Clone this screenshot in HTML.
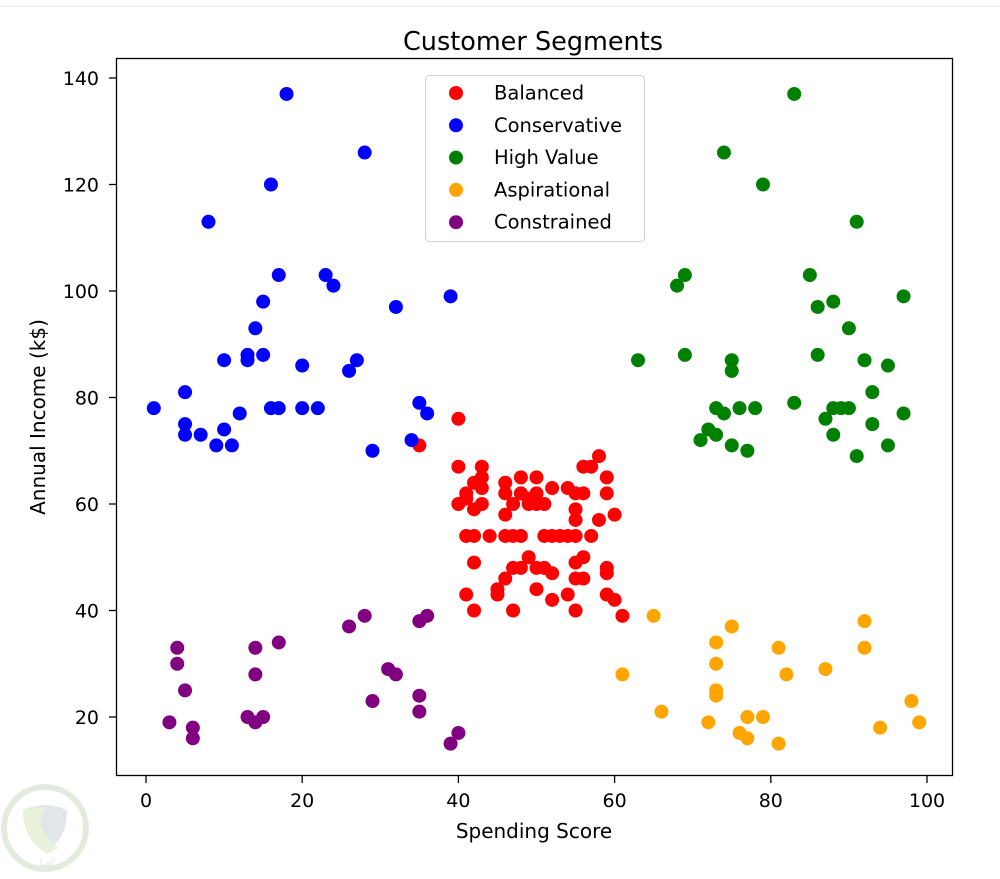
<!DOCTYPE html>
<html><head><meta charset="utf-8"><style>
body{margin:0;background:#fff;}
svg{display:block;font-family:"DejaVu Sans","Liberation Sans",sans-serif;}
</style></head><body>
<svg id="chart" width="1000" height="879" viewBox="0 0 1000 879">
<line x1="0" y1="6" x2="1000" y2="6" stroke="#e6e6e6" stroke-width="1"/>
<g opacity="0.5">
<circle cx="45" cy="828" r="41" fill="none" stroke="#c9d9c0" stroke-width="6"/>
<path d="M23 810 Q45 800 67 810 Q67 840 45 852 Q23 840 23 810Z" fill="#c3cfd6"/>
<path d="M23 810 Q36 806 45 808 Q34 830 58 848 Q45 856 45 852 Q23 840 23 810Z" fill="#d7e5b8"/>
<text x="45" y="866" font-size="10" text-anchor="middle" fill="#c9d9c0">كفيل</text>
</g>
<text x="533" y="50" font-size="25.5" text-anchor="middle" fill="#000">Customer Segments</text>
<g id="plot"></g>
<rect x="116.5" y="58.5" width="836" height="717" fill="none" stroke="#000" stroke-width="1.3"/>
<g id="xticks"></g>
<g id="yticks"></g>
<text x="534" y="838" font-size="20" text-anchor="middle">Spending Score</text>
<text x="0" y="0" font-size="20" text-anchor="middle" transform="translate(45,417) rotate(-90)">Annual Income (k$)</text>
<g id="legend"></g>
</svg>
<script>
const seriesNames = ["Balanced","Conservative","High Value","Aspirational","Constrained"];
const seriesColors = ["#ff0000","#0000ff","#008000","#ffa500","#800080"];
const balanced = [[40,76],[35,71],[40,67],[43,67],[58,69],[56,67],[57,67],[59,65],[59,62],[42,64],[43,65],[41,62],[43,63],[41,61],[40,60],[42,59],[43,60],[46,64],[46,62],[48,65],[50,65],[48,62],[50,62],[49,61],[50,60],[49,60],[47,60],[46,58],[52,63],[51,60],[54,63],[55,62],[56,62],[55,59],[55,57],[58,57],[60,58],[41,54],[42,54],[44,54],[46,54],[47,54],[48,54],[51,54],[52,54],[53,54],[54,54],[55,54],[57,54],[49,50],[56,50],[42,49],[47,48],[48,48],[50,48],[51,48],[55,49],[59,48],[52,47],[46,46],[55,46],[56,46],[59,47],[50,44],[45,44],[41,43],[45,43],[54,43],[59,43],[52,42],[60,42],[42,40],[47,40],[55,40],[61,39]];
const conservative = [[1,78],[5,81],[5,75],[5,73],[7,73],[8,113],[9,71],[10,74],[10,87],[11,71],[12,77],[13,88],[13,87],[14,93],[15,98],[15,88],[16,120],[16,78],[17,78],[17,103],[18,137],[20,86],[20,78],[22,78],[23,103],[24,101],[26,85],[27,87],[28,126],[29,70],[32,97],[34,72],[35,79],[36,77],[39,99]];
const highValue = [[63,87],[68,101],[69,103],[69,88],[71,72],[72,74],[73,78],[73,73],[74,126],[74,77],[75,87],[75,85],[75,71],[76,78],[77,70],[78,78],[79,120],[83,137],[83,79],[85,103],[86,97],[86,88],[87,76],[88,98],[88,73],[88,78],[89,78],[90,78],[90,93],[91,113],[91,69],[92,87],[93,81],[93,75],[95,86],[95,71],[97,99],[97,77]];
const aspirational = [[61,28],[65,39],[66,21],[72,19],[73,34],[73,30],[73,25],[73,24],[75,37],[76,17],[77,16],[77,20],[79,20],[81,33],[81,15],[82,28],[87,29],[92,38],[92,33],[94,18],[98,23],[99,19]];
const constrained = [[3,19],[4,33],[4,30],[5,25],[6,18],[6,16],[13,20],[14,19],[14,33],[14,28],[15,20],[17,34],[26,37],[28,39],[29,23],[31,29],[32,28],[35,38],[35,24],[35,21],[36,39],[39,15],[40,17]];
const xTickLabels = [0,20,40,60,80,100];
const yTickLabels = [20,40,60,80,100,120,140];

const NS="http://www.w3.org/2000/svg";
function xs(v){return 146+7.81*v;}
function ys(v){return 717-(v-20)*5.325;}
function mk(tag,attrs,parent){const e=document.createElementNS(NS,tag);for(const k in attrs)e.setAttribute(k,attrs[k]);parent.appendChild(e);return e;}
const plot=document.getElementById('plot');
const all=[balanced,conservative,highValue,aspirational,constrained];
all.forEach((s,i)=>{
  const g=mk('g',{},plot);
  
  
  s.forEach(p=>{
    const c=mk('circle',{cx:xs(p[0]),cy:ys(p[1]),r:7,fill:seriesColors[i]},g);
    
    
  });
});
const xt=document.getElementById('xticks');
xTickLabels.forEach(v=>{
  const l=mk('line',{x1:xs(v),x2:xs(v),y1:776,y2:783,stroke:'#000','stroke-width':1.3},xt);
  
  
  const t=mk('text',{x:xs(v),y:807,'font-size':19,'text-anchor':'middle'},xt);
  t.textContent=v;
  
  
});
const yt=document.getElementById('yticks');
yTickLabels.forEach(v=>{
  const l=mk('line',{x1:109,x2:116,y1:ys(v),y2:ys(v),stroke:'#000','stroke-width':1.3},yt);
  
  
  const t=mk('text',{x:99,y:ys(v)+7,'font-size':19,'text-anchor':'end'},yt);
  t.textContent=v;
  
  
});
const lg=document.getElementById('legend');
const box=mk('rect',{x:425.5,y:75.5,width:219,height:166,rx:4,fill:'#fff',stroke:'#d0d0d0'},lg);


seriesNames.forEach((n,i)=>{
  const y=93+i*32.3;
  const g=mk('g',{},lg);
  
  
  mk('circle',{cx:456,cy:y,r:7,fill:seriesColors[i]},g);
  const t=mk('text',{x:494,y:y+6.5,'font-size':19.5},g);
  t.textContent=n;
});
</script>
</body></html>
